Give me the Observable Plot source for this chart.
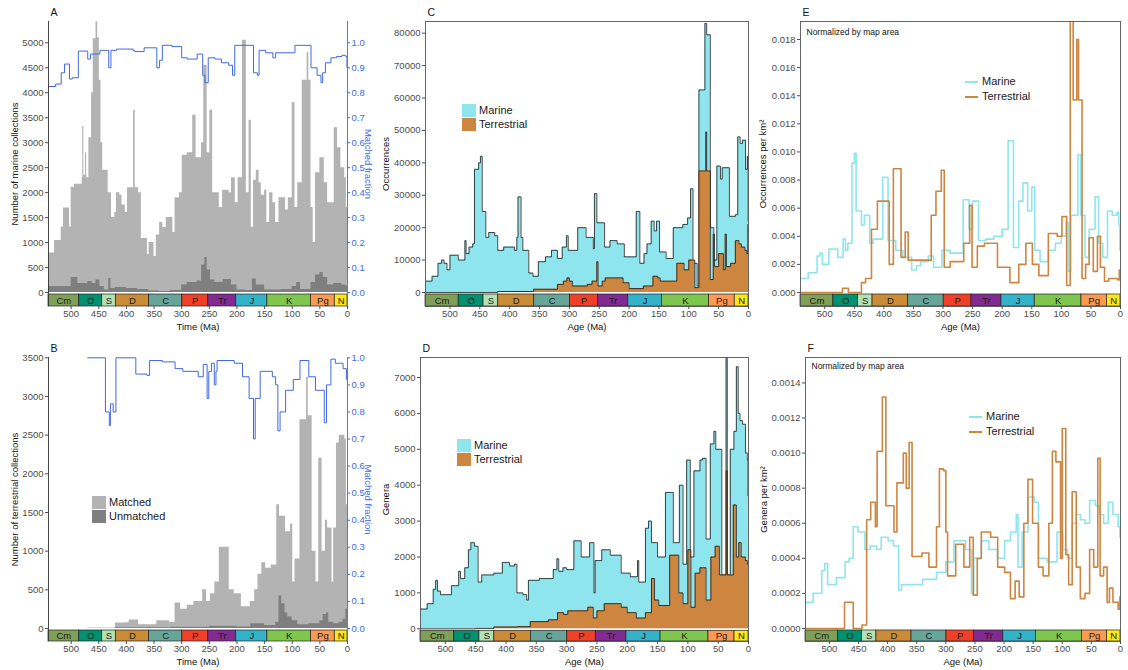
<!DOCTYPE html>
<html><head><meta charset="utf-8">
<script src="https://cdn.jsdelivr.net/npm/d3@7"></script>
<script src="https://cdn.jsdelivr.net/npm/@observablehq/plot@0.6"></script>
<style>
body{margin:0;background:#fff;font-family:"Liberation Sans",Arial,Helvetica,sans-serif;}
#wrap{position:relative;width:1128px;height:670px;overflow:hidden;background:#fff;}
.panel{position:absolute;}
.leg{position:absolute;font-size:11px;color:#1a1a1a;line-height:1;white-space:nowrap;}
.sw{position:absolute;}
</style></head><body><div id="wrap"></div>
<script>
// ---------- shared axis ticks and geologic time scale ----------
const xTicks = [500, 450, 400, 350, 300, 250, 200, 150, 100, 50, 0];
const fracTicks = [0, 0.1, 0.2, 0.3, 0.4, 0.5, 0.6, 0.7, 0.8, 0.9, 1.0];
const periodNames = ["Cm", "O", "S", "D", "C", "P", "Tr", "J", "K", "Pg", "N"];
const periodStart = [541, 485.4, 443.8, 419.2, 358.9, 298.9, 251.9, 201.3, 145, 66, 23.03];
const periodEnd = [485.4, 443.8, 419.2, 358.9, 298.9, 251.9, 201.3, 145, 66, 23.03, 0];
const periodColors = ["#7FA056", "#009270", "#B3E1B6", "#CB8C37", "#67A599", "#F04028", "#812B92", "#34B2C9", "#7FC64E", "#FD9A52", "#FFE619"];

// ---------- Panel A: marine collections (step series: [age start, value]) ----------
const marineCollAll = [[541,790],[530,1040],[518,1310],[514,1690],[503,1310],[500,2110],[494,2170],[480,2300],[479,3330],[477,2350],[474,2800],[472,2300],[468,3100],[463,4000],[460,5080],[455,5420],[452,5100],[449,4250],[446,3000],[443,2450],[433,2000],[427,1500],[421,1600],[418,2000],[412,1950],[408,1750],[402,1600],[398,2100],[387,3650],[384,2100],[378,2000],[373,1080],[362,760],[359,1000],[350,720],[346,1150],[340,1400],[334,1300],[328,1500],[316,1200],[312,1900],[304,2000],[299,2750],[290,2800],[280,3550],[274,2700],[264,3000],[260,4550],[254,2800],[249,3650],[244,2000],[232,1700],[226,2050],[214,2000],[210,2300],[203,1800],[198,2300],[190,5050],[183,2000],[178,3450],[174,1300],[170,2250],[165,2450],[160,2200],[156,1950],[150,2050],[146,1400],[141,2000],[135,1800],[130,1400],[124,1900],[112,1650],[107,1900],[100,3800],[95,1700],[90,2200],[82,4250],[73,4800],[70,4250],[66,1700],[62,1000],[58,2400],[50,2700],[42,2200],[36,1800],[24,3300],[18,2900],[12,2500],[5,2300],[2,1700]];
const marineCollUnmatched = [[541,120],[500,300],[488,180],[470,220],[462,180],[455,250],[448,120],[440,50],[432,280],[428,80],[420,100],[400,80],[380,60],[360,30],[340,20],[320,40],[300,150],[290,200],[272,230],[264,550],[258,700],[254,450],[248,250],[240,200],[225,260],[210,150],[200,50],[185,40],[172,270],[165,150],[150,50],[120,60],[100,120],[92,200],[85,60],[66,200],[58,350],[50,400],[44,300],[36,150],[25,180],[10,150],[3,130]];
const marineFraction = [[541,0.825],[528,0.835],[518,0.88],[512,0.915],[503,0.855],[498,0.86],[487,0.967],[470,0.935],[465,0.955],[448,0.97],[432,0.9],[428,0.97],[418,0.975],[388,0.97],[385,0.965],[368,0.98],[345,0.9],[340,0.93],[335,0.99],[318,0.985],[300,0.94],[290,0.935],[272,0.955],[262,0.87],[258,0.84],[252,0.94],[240,0.935],[228,0.92],[215,0.91],[208,0.87],[204,0.99],[170,0.88],[163,0.87],[160,0.97],[148,0.96],[135,0.94],[130,0.96],[95,0.99],[66,0.9],[55,0.87],[48,0.84],[45,0.88],[40,0.92],[30,0.94],[20,0.945],[10,0.95],[3,0.945],[1,0.9]];

// ---------- Panel B: terrestrial collections ----------
const terrCollAll = [[541,0],[470,8],[420,70],[400,75],[395,110],[378,50],[345,100],[322,80],[312,330],[302,250],[290,300],[278,350],[262,500],[255,350],[248,450],[240,600],[232,1050],[214,500],[205,450],[192,280],[176,350],[168,500],[162,700],[155,850],[148,780],[138,820],[128,1600],[123,1450],[112,1250],[103,1350],[99,600],[95,900],[86,2700],[74,3250],[71,2750],[64,1000],[57,600],[52,2200],[46,1000],[40,1400],[36,1300],[28,600],[25,1300],[20,2400],[15,2500],[5,2450],[2,1600]];
const terrCollUnmatched = [[541,0],[420,10],[320,15],[250,30],[200,20],[175,60],[150,40],[130,80],[124,420],[119,320],[113,200],[108,150],[100,100],[90,50],[70,60],[50,100],[44,180],[38,200],[34,80],[25,60],[15,80],[8,120],[3,250]];
const terrFraction = [[470,1.0],[438,0.8],[431,0.75],[429,0.83],[424,0.8],[419,1.0],[383,0.94],[363,0.935],[358,0.99],[335,0.985],[312,0.96],[298,0.95],[270,0.93],[261,0.975],[254,0.85],[251,0.95],[246,0.98],[241,0.9],[238,0.95],[236,0.99],[205,0.98],[190,0.93],[178,0.85],[170,0.7],[167,0.85],[158,0.95],[136,0.93],[130,0.9],[126,0.73],[122,0.8],[112,0.88],[98,0.92],[86,0.99],[70,0.93],[58,0.88],[42,0.76],[38,0.9],[30,0.995],[22,0.98],[8,0.96],[2,0.92]];

// ---------- Panel C: occurrences ----------
const occMarine = [[541,3500],[530,5000],[520,9000],[514,10000],[510,9000],[505,7000],[500,11500],[486,10000],[475,16000],[473,12000],[468,14000],[462,15000],[459,38000],[452,40000],[449,42000],[446,25000],[440,17000],[435,18500],[425,17500],[420,13000],[410,14000],[392,13000],[388,17000],[386,29500],[381,17000],[378,13000],[368,6000],[361,5000],[352,9500],[340,11000],[330,13000],[320,10500],[312,14000],[305,17500],[302,13000],[286,20000],[272,17000],[260,13500],[258,30500],[254,21500],[241,14000],[232,16000],[220,15000],[208,11000],[188,25000],[182,9000],[175,12000],[170,15000],[163,22000],[158,19000],[154,22000],[149,12500],[138,10500],[126,20000],[110,21000],[102,23000],[97,32000],[93,9000],[86,2000],[83,62500],[73,83000],[70,79500],[64,20000],[58,10000],[53,39000],[47,35000],[44,38500],[32,23500],[22,24000],[18,48000],[14,46000],[10,47000],[5,38000],[2,42000],[0.8,22000]];
const occTerr = [[541,0],[420,300],[360,1000],[320,2500],[310,3500],[304,4500],[300,3500],[295,2000],[270,2500],[262,3500],[254,9500],[252,2000],[245,3500],[240,4500],[210,3000],[200,1200],[176,2000],[165,2000],[160,5000],[152,4500],[148,3500],[120,9000],[108,7000],[100,10000],[90,1500],[83,37500],[71.5,49500],[70,37500],[64,4000],[59,18000],[57,8000],[50,12000],[42,7000],[39,18000],[37,8000],[30,9000],[22,16000],[16,15000],[12,14000],[6,13000],[3,12000],[1,21000]];

// ---------- Panel D: genera ----------
const genMarine = [[541,550],[530,700],[520,1100],[516,1350],[513,1050],[508,950],[490,1200],[478,1600],[475,1400],[468,1700],[462,2200],[458,2400],[452,2300],[446,1300],[440,1500],[420,1550],[406,1850],[394,1750],[386,1800],[382,1000],[372,950],[366,800],[363,1350],[345,1400],[322,1650],[316,1950],[313,1600],[306,1700],[300,1650],[288,2450],[276,2000],[262,2400],[255,1000],[253,1900],[242,2200],[228,2050],[210,1550],[195,1450],[183,1900],[181,1300],[170,2800],[165,3000],[160,2400],[150,2000],[137,3800],[124,2400],[114,4000],[108,1800],[102,4700],[96,2000],[90,4400],[80,4700],[76,4750],[70,2500],[63,5150],[57,5500],[54,5000],[44,1500],[37,7600],[35,1500],[30,5000],[24,5500],[20,7300],[17,6000],[14,5800],[10,5700],[5,4900],[2,4700],[1,3700]];
const genTerr = [[541,0],[450,10],[420,50],[380,60],[360,200],[330,250],[315,450],[305,400],[298,500],[285,500],[265,600],[256,300],[250,500],[238,700],[210,600],[200,450],[185,300],[170,450],[160,1400],[155,800],[148,650],[130,2050],[115,1000],[108,700],[100,2200],[95,600],[88,1550],[80,1700],[70,800],[62,2000],[55,2300],[48,1500],[37,4400],[35,1500],[30,1500],[25,3450],[20,2000],[16,2400],[12,2000],[5,1900],[2,1800]];

// ---------- Panel E: occurrences per km2 ----------
const occMarineKm2 = [[541,0.001],[528,0.0014],[513,0.0026],[508,0.0028],[504,0.002],[493,0.0031],[478,0.0025],[469,0.0038],[465,0.003],[461,0.0035],[454,0.0092],[450,0.0099],[447,0.0058],[438,0.0048],[433,0.0055],[424,0.0035],[418,0.0038],[402,0.0082],[393,0.0037],[380,0.003],[368,0.0025],[353,0.0016],[345,0.0019],[338,0.0022],[325,0.0026],[316,0.0018],[302,0.003],[288,0.0028],[266,0.0066],[256,0.0045],[250,0.0065],[240,0.0037],[228,0.0038],[214,0.004],[200,0.0045],[190,0.0108],[181,0.0032],[172,0.0065],[165,0.0078],[157,0.0058],[150,0.0075],[145,0.003],[136,0.0022],[122,0.003],[110,0.0035],[100,0.004],[92,0.005],[88,0.0015],[84,0.0055],[72,0.0098],[67,0.0055],[60,0.0025],[53,0.0045],[43,0.0068],[37,0.0035],[30,0.0025],[22,0.0058],[14,0.0055],[6,0.0057],[3,0.0048],[1,0.003]];
const occTerrKm2 = [[541,0],[470,0.0003],[460,0],[438,0.0007],[431,0.001],[421,0.0045],[411,0.0065],[391,0.002],[384,0.0088],[371,0.0025],[364,0.0043],[359,0.0023],[320,0.0055],[312,0.0072],[303,0.0087],[298,0.0018],[288,0.0022],[265,0.0035],[255,0.0062],[251,0.0018],[242,0.0033],[230,0.0035],[208,0.0018],[187,0.0007],[172,0.002],[160,0.0035],[149,0.002],[138,0.0012],[122,0.0042],[107,0.004],[99,0.0054],[91,0.0005],[85,0.0197],[80,0.0137],[74,0.018],[71,0.0137],[65,0.001],[59,0.002],[53,0.0039],[46,0.0015],[39,0.004],[34,0.0018],[27,0.0008],[20,0.001],[5,0.0009],[2,0.0016]];

// ---------- Panel F: genera per km2 ----------
const genMarineKm2 = [[541,0.00015],[528,0.0002],[513,0.00033],[508,0.00037],[503,0.00025],[488,0.00029],[473,0.00038],[466,0.0004],[459,0.00058],[451,0.00055],[439,0.00045],[430,0.00047],[419,0.00045],[411,0.00052],[399,0.0005],[390,0.00047],[381,0.00022],[376,0.00025],[358,0.00025],[340,0.00028],[316,0.00032],[300,0.00038],[286,0.0005],[266,0.00045],[256,0.0002],[252,0.0004],[239,0.0005],[226,0.00045],[211,0.0004],[199,0.0005],[189,0.00055],[179,0.00065],[176,0.00035],[169,0.00055],[159,0.00075],[148,0.00072],[141,0.0004],[126,0.00038],[109,0.00055],[99,0.00045],[91,0.0004],[83,0.0006],[76,0.00065],[69,0.00062],[61,0.0006],[53,0.00073],[43,0.0007],[36,0.00065],[29,0.0006],[21,0.00072],[13,0.00065],[4,0.00058],[1,0.00052]];
const genTerrKm2 = [[541,0],[474,0.00015],[459,0],[444,0.00002],[436,0.00062],[429,0.00072],[421,0.00058],[418,0.00101],[409,0.00132],[403,0.0007],[389,0.00055],[384,0.00083],[373,0.001],[368,0.0008],[363,0.00106],[358,0.00041],[341,0.00043],[329,0.00035],[316,0.00058],[311,0.00091],[304,0.0009],[300,0.00055],[297,0.0003],[283,0.00048],[269,0.00035],[259,0.00052],[253,0.00019],[246,0.0004],[239,0.00055],[223,0.00052],[211,0.00035],[199,0.00032],[189,0.00017],[181,0.00027],[174,0.00018],[166,0.0006],[159,0.00085],[151,0.0006],[141,0.00035],[133,0.0003],[123,0.0006],[117,0.00101],[111,0.00095],[103,0.0004],[100,0.00114],[94,0.00042],[89,0.00025],[83,0.00078],[76,0.00035],[69,0.00017],[61,0.0002],[53,0.00045],[46,0.00035],[39,0.00097],[35,0.0003],[29,0.00035],[23,0.00015],[19,0.00023],[13,0.00015],[4,0.00011],[1,0.00018]];

// ---------- helpers ----------
const blue = "#4169E1";
const marineFill = "#8EE5EE", terrFill = "#CD853F";
const greyLight = "#B3B3B3", greyDark = "#7F7F7F";
const periods = periodNames.map((n, i) => ({name: n, start: periodStart[i], end: periodEnd[i], color: periodColors[i]}));
function st(pairs) {
  const o = pairs.map(([a, v]) => ({age: a, v}));
  o.push({age: 0, v: pairs[pairs.length - 1][1]});
  return o;
}
const wrap = document.getElementById("wrap");

function makePanel(cfg) {
  const W = 376, H = 335;
  const {left, top, mL, mR, mT, mB, yDomain, yTicks, yFmt, framed, content, letter, yLabel, yLabelDx, xLabel, note, noteDx, noteDy, extra = []} = cfg;
  const innerH = H - mT - mB;
  const k = innerH / (yDomain[1] - yDomain[0]);
  const barTop = -2 / k, barBot = yDomain[0];
  const marks = [...content];
  marks.push(Plot.rect(periods, {x1: "start", x2: "end", y1: barBot, y2: barTop, fill: "color", stroke: "#222", strokeWidth: 0.7}));
  marks.push(Plot.text(periods, {x: d => (d.start + d.end) / 2, y: (barBot + barTop) / 2, text: "name", fill: "#1a1a1a", fontSize: 9.5}));
  if (framed) marks.push(Plot.frame({stroke: "#555", strokeWidth: 0.9}));
  else marks.push(Plot.ruleX([541], {stroke: "#333", strokeWidth: 0.9}));
  marks.push(Plot.axisX(xTicks, {anchor: "bottom", tickSize: 3, tickPadding: 1, label: null, tickFormat: d3.format("d")}));
  marks.push(Plot.axisY(yTicks, {anchor: "left", tickSize: 3, tickPadding: 2, label: null, tickFormat: yFmt}));
  marks.push(Plot.text([xLabel], {frameAnchor: "bottom", dy: 20, text: d => d, textAnchor: "middle", lineAnchor: "middle", fill: "#111", fontSize: 9.5}));
  marks.push(Plot.text([yLabel], {frameAnchor: "left", dx: yLabelDx, rotate: -90, text: d => d, textAnchor: "middle", lineAnchor: "middle", fill: "#111", fontSize: 9.5}));
  marks.push(Plot.text([letter], {frameAnchor: "top-left", dx: 2, dy: -9, text: d => d, textAnchor: "start", lineAnchor: "middle", fill: "#111", fontSize: 10.5}));
  if (note) marks.push(Plot.text([note], {frameAnchor: "top-left", dx: noteDx, dy: noteDy, text: d => d, textAnchor: "start", lineAnchor: "middle", fill: "#111", fontSize: 8.5}));
  marks.push(...extra);
  const svg = Plot.plot({
    width: W, height: H,
    marginLeft: mL, marginRight: mR, marginTop: mT, marginBottom: mB,
    x: {domain: [541, 0]},
    y: {domain: yDomain},
    color: {type: "identity"},
    style: {fontFamily: "'Liberation Sans', Arial, Helvetica, sans-serif", fontSize: "9.5px", color: "#4d4d4d", background: "transparent", overflow: "visible"},
    marks
  });
  const div = document.createElement("div");
  div.className = "panel";
  div.style.left = left + "px";
  div.style.top = top + "px";
  div.appendChild(svg);
  wrap.appendChild(div);
}

function areaStep(pairs, fill, yf) {
  return Plot.areaY(st(pairs), {x: "age", y1: 0, y2: yf || "v", curve: "step-after", fill, clip: true});
}
function lineStep(pairs, stroke, w, yf, op = 1) {
  return Plot.lineY(st(pairs), {x: "age", y: yf || "v", curve: "step-after", stroke, strokeWidth: w, strokeOpacity: op, clip: true});
}

// Panel A
makePanel({
  left: 0, top: 0, mL: 48, mR: 29, mT: 21, mB: 29,
  yDomain: [-280, 5427], yTicks: [0, 500, 1000, 1500, 2000, 2500, 3000, 3500, 4000, 4500, 5000], yFmt: d3.format("d"),
  framed: false, letter: "A", yLabel: "Number of marine collections", yLabelDx: -34, xLabel: "Time (Ma)",
  content: [
    areaStep(marineCollAll, greyLight),
    areaStep(marineCollUnmatched, greyDark),
    lineStep(marineFraction, blue, 1, d => d.v * 5000)
  ],
  extra: [
    Plot.ruleX([0], {stroke: blue, strokeWidth: 0.9}),
    Plot.axisY(fracTicks, {anchor: "right", y: d => d * 5000, tickFormat: d => d.toFixed(1), color: blue, tickSize: 2, tickPadding: 2, label: null}),
    Plot.text(["Matched fraction"], {frameAnchor: "right", dx: 21, rotate: 90, text: d => d, textAnchor: "middle", lineAnchor: "middle", fill: blue, fontSize: 9.5})
  ]
});

// Panel B
makePanel({
  left: 0, top: 335, mL: 48, mR: 29, mT: 22, mB: 29,
  yDomain: [-168, 3504], yTicks: [0, 500, 1000, 1500, 2000, 2500, 3000, 3500], yFmt: d3.format("d"),
  framed: false, letter: "B", yLabel: "Number of terrestrial collections", yLabelDx: -34, xLabel: "Time (Ma)",
  content: [
    areaStep(terrCollAll, greyLight),
    areaStep(terrCollUnmatched, greyDark),
    lineStep(terrFraction, blue, 1, d => d.v * 3500)
  ],
  extra: [
    Plot.ruleX([0], {stroke: blue, strokeWidth: 0.9}),
    Plot.axisY(fracTicks, {anchor: "right", y: d => d * 3500, tickFormat: d => d.toFixed(1), color: blue, tickSize: 2, tickPadding: 2, label: null}),
    Plot.text(["Matched fraction"], {frameAnchor: "right", dx: 21, rotate: 90, text: d => d, textAnchor: "middle", lineAnchor: "middle", fill: blue, fontSize: 9.5})
  ]
});

// Panel C
makePanel({
  left: 376, top: 0, mL: 49, mR: 4, mT: 21, mB: 29,
  yDomain: [-4320, 83610], yTicks: [0, 10000, 20000, 30000, 40000, 50000, 60000, 70000, 80000], yFmt: d3.format("d"),
  framed: true, letter: "C", yLabel: "Occurrences", yLabelDx: -40, xLabel: "Age (Ma)",
  content: [
    areaStep(occMarine, marineFill),
    lineStep(occMarine, "#1a1a1a", 0.8),
    areaStep(occTerr, terrFill),
    lineStep(occTerr, "#1a1a1a", 0.8)
  ]
});

// Panel D
makePanel({
  left: 376, top: 335, mL: 44, mR: 4, mT: 22, mB: 29,
  yDomain: [-354, 7558], yTicks: [0, 1000, 2000, 3000, 4000, 5000, 6000, 7000], yFmt: d3.format("d"),
  framed: true, letter: "D", yLabel: "Genera", yLabelDx: -35, xLabel: "Age (Ma)",
  content: [
    areaStep(genMarine, marineFill),
    lineStep(genMarine, "#1a1a1a", 0.8),
    areaStep(genTerr, terrFill),
    lineStep(genTerr, "#1a1a1a", 0.8)
  ]
});

// Panel E
makePanel({
  left: 752, top: 0, mL: 48, mR: 8, mT: 21, mB: 29,
  yDomain: [-0.000996, 0.01928], yTicks: [0, 0.002, 0.004, 0.006, 0.008, 0.010, 0.012, 0.014, 0.016, 0.018], yFmt: d3.format(".3f"),
  framed: true, letter: "E", yLabel: "Occurrences per km²", yLabelDx: -38, xLabel: "Age (Ma)",
  note: "Normalized by map area", noteDx: 6, noteDy: 11,
  content: [
    lineStep(occMarineKm2, marineFill, 1.6),
    lineStep(occTerrKm2, terrFill, 1.6)
  ]
});

// Panel F
makePanel({
  left: 752, top: 335, mL: 53, mR: 8, mT: 22, mB: 29,
  yDomain: [-0.0000742, 0.001545], yTicks: [0, 0.0002, 0.0004, 0.0006, 0.0008, 0.0010, 0.0012, 0.0014], yFmt: d3.format(".4f"),
  framed: true, letter: "F", yLabel: "Genera per km²", yLabelDx: -42, xLabel: "Age (Ma)",
  note: "Normalized by map area", noteDx: 6, noteDy: 9,
  content: [
    lineStep(genMarineKm2, marineFill, 1.6),
    lineStep(genTerrKm2, terrFill, 1.6)
  ]
});

// ---------- legends (HTML overlays) ----------
function addBoxLegend(x, y, items) {
  items.forEach((it, i) => {
    const sw = document.createElement("div");
    sw.className = "sw";
    Object.assign(sw.style, {left: x + "px", top: (y + i * 14) + "px", width: "14px", height: "13px", background: it.color});
    wrap.appendChild(sw);
    const t = document.createElement("div");
    t.className = "leg";
    t.textContent = it.label;
    Object.assign(t.style, {left: (x + 17) + "px", top: (y + i * 14 + 1) + "px"});
    wrap.appendChild(t);
  });
}
function addLineLegend(x, y, items) {
  items.forEach((it, i) => {
    const sw = document.createElement("div");
    sw.className = "sw";
    Object.assign(sw.style, {left: x + "px", top: (y + i * 14.5 - 1) + "px", width: "13px", height: "2px", background: it.color});
    wrap.appendChild(sw);
    const t = document.createElement("div");
    t.className = "leg";
    t.textContent = it.label;
    Object.assign(t.style, {left: (x + 17) + "px", top: (y + i * 14.5 - 6) + "px"});
    wrap.appendChild(t);
  });
}
addBoxLegend(92, 496, [{label: "Matched", color: greyLight}, {label: "Unmatched", color: greyDark}]);
addBoxLegend(462, 104, [{label: "Marine", color: marineFill}, {label: "Terrestrial", color: terrFill}]);
addBoxLegend(457, 439, [{label: "Marine", color: marineFill}, {label: "Terrestrial", color: terrFill}]);
addLineLegend(965, 82, [{label: "Marine", color: marineFill}, {label: "Terrestrial", color: terrFill}]);
addLineLegend(969, 417, [{label: "Marine", color: marineFill}, {label: "Terrestrial", color: terrFill}]);
</script>
</body></html>
